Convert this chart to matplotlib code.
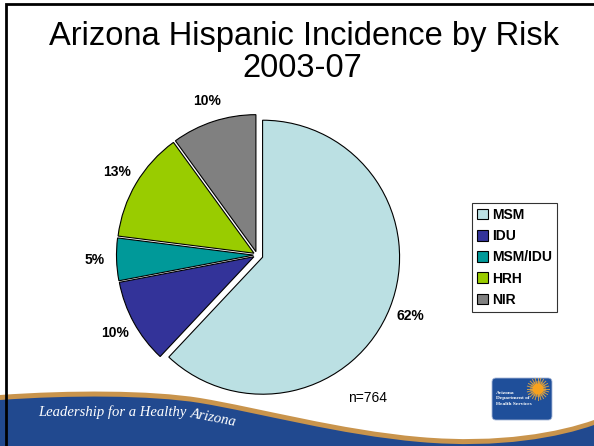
import matplotlib
matplotlib.use("Agg")
import matplotlib.pyplot as plt
import numpy as np
from matplotlib.path import Path
from matplotlib.patches import PathPatch, FancyBboxPatch, Circle

plt.rcParams['font.family'] = ['Liberation Sans', 'DejaVu Sans']

# risk groups, share of cases (%)
categories = ['MSM', 'IDU', 'MSM/IDU', 'HRH', 'NIR']
shares = [62, 10, 5, 13, 10]
colors = ['#bbe0e3', '#333399', '#009999', '#99cc00', '#808080']
n_cases = 764

W, H = 594, 446
R = 137
# wedge offsets in pixels: MSM pulled out, small gaps elsewhere
explode = [6, 3.5, 3.5, 3.5, 3.5]

fig = plt.figure(figsize=(W / 100, H / 100), dpi=100)
ax = fig.add_axes([0, 0, 1, 1])


def py(y):
    # rows counted from the top -> data y
    return H - y


# footer: tan stripe with the blue wave under it
def wave(off):
    pts = [(0, 395), (70, 390), (150, 390), (200, 398),
           (260, 408), (340, 430), (420, 437),
           (500, 444), (560, 432), (594, 420)]
    verts = [(0, py(H + 2))] + [(x, py(y + off)) for x, y in pts] + [(W, py(H + 2)), (0, 0)]
    codes = ([Path.MOVETO, Path.LINETO] + [Path.CURVE4] * 9 + [Path.LINETO, Path.CLOSEPOLY])
    return Path(verts, codes)


ax.add_patch(PathPatch(wave(0), facecolor='#c9944c', edgecolor='none', zorder=0))
ax.add_patch(PathPatch(wave(5), facecolor='#21498f', edgecolor='none', zorder=0))

ax.text(38, py(416), 'Leadership for a Healthy', family='Liberation Serif',
        style='italic', color='white', fontsize=10.5, va='baseline', zorder=1)
ax.text(190, py(417), 'Arizona', family='Liberation Serif', style='italic',
        color='white', fontsize=10.5, va='baseline', rotation=-11,
        rotation_mode='anchor', zorder=1)

# logo block
ax.add_patch(FancyBboxPatch((492, py(420)), 60, 42,
                            boxstyle='round,pad=0,rounding_size=4',
                            facecolor='#1f4f9a', edgecolor='#a8b8d8',
                            linewidth=0.6, zorder=1))
sx, sy = 538, py(389)
for ang in np.linspace(0, 2 * np.pi, 24, endpoint=False):
    ax.plot([sx + 5 * np.cos(ang), sx + 11 * np.cos(ang)],
            [sy + 5 * np.sin(ang), sy + 11 * np.sin(ang)],
            color='#f0b040', lw=0.7, alpha=0.8, zorder=2)
ax.add_patch(Circle((sx, sy), 8, facecolor='#f5a830', alpha=0.45,
                    edgecolor='none', zorder=2))
ax.add_patch(Circle((sx, sy), 5.5, facecolor='#f7a21e', edgecolor='none', zorder=2))
ax.text(496, py(391), 'Arizona\nDepartment of\nHealth Services',
        family='Liberation Serif', weight='bold', color='white',
        fontsize=3.9, va='top', linespacing=1.5, zorder=3)

# pie
wedges, texts, autotexts = ax.pie(
    shares, colors=colors, explode=explode, startangle=90,
    counterclock=False, center=(257, py(255)), radius=R,
    autopct='%1.0f%%', pctdistance=1.16,
    wedgeprops=dict(edgecolor='black', linewidth=0.8),
    textprops=dict(fontsize=10, fontweight='bold'))
for w in wedges:
    w.set_zorder(4)
for t in autotexts:
    t.set_zorder(5)

ax.set_xlim(0, W)
ax.set_ylim(0, H)
ax.set_aspect('auto')
ax.axis('off')

ax.text(368, py(398), 'n=%d' % n_cases, fontsize=10, ha='center', va='center')

fig.text(304 / W, 1 - 45 / H, 'Arizona Hispanic Incidence by Risk',
         fontsize=23.5, ha='center', va='baseline')
fig.text(302 / W, 1 - 77 / H, '2003-07', fontsize=23.5, ha='center',
         va='baseline')

leg = fig.legend(wedges, categories, loc='upper left',
                 bbox_to_anchor=(472 / W, 1 - 203 / H), frameon=True,
                 fancybox=False, edgecolor='black',
                 prop=dict(weight='bold', size=10), handlelength=0.8,
                 handleheight=0.8, handletextpad=0.3, labelspacing=0.52,
                 borderpad=0.35, borderaxespad=0)
leg.get_frame().set_linewidth(0.8)

# slide frame (top and left edges)
ax.plot([6, 6, W], [0, py(4), py(4)], color='black', lw=2, clip_on=False,
        solid_joinstyle='miter', zorder=6)

fig.savefig('out.png', dpi=100)
